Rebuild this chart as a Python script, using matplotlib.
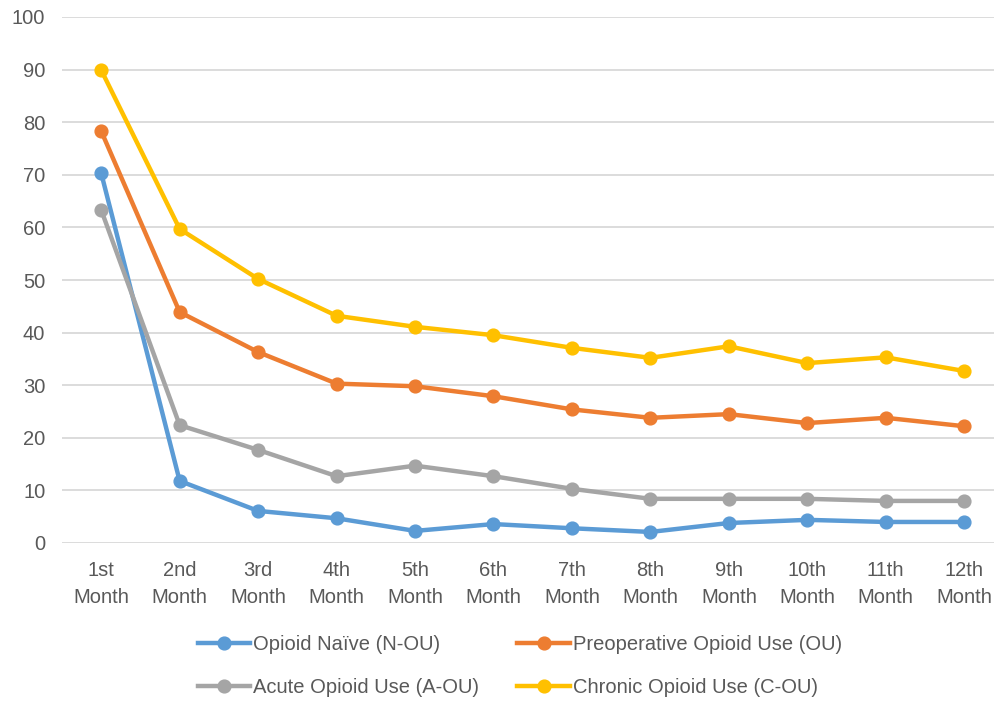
import matplotlib
matplotlib.use("Agg")
import matplotlib.pyplot as plt
from matplotlib.lines import Line2D

months = ["1st\nMonth", "2nd\nMonth", "3rd\nMonth", "4th\nMonth", "5th\nMonth", "6th\nMonth",
          "7th\nMonth", "8th\nMonth", "9th\nMonth", "10th\nMonth", "11th\nMonth", "12th\nMonth"]

naive = [70.3, 11.8, 6.1, 4.7, 2.3, 3.6, 2.8, 2.1, 3.8, 4.4, 4.0, 4.0]
preop = [78.3, 43.9, 36.3, 30.3, 29.8, 27.9, 25.4, 23.8, 24.5, 22.8, 23.8, 22.2]
acute = [63.3, 22.4, 17.7, 12.7, 14.7, 12.7, 10.3, 8.4, 8.4, 8.4, 8.0, 8.0]
chronic = [89.9, 59.7, 50.2, 43.2, 41.1, 39.5, 37.1, 35.2, 37.4, 34.2, 35.3, 32.7]

series = [
    ("Opioid Naïve (N-OU)", naive, "#5B9BD5"),
    ("Preoperative Opioid Use (OU)", preop, "#ED7D31"),
    ("Acute Opioid Use (A-OU)", acute, "#A5A5A5"),
    ("Chronic Opioid Use (C-OU)", chronic, "#FFC000"),
]

plt.rcParams["font.family"] = ["Liberation Sans", "DejaVu Sans"]
text_color = "#595959"
fs = 14.5
lw = 3.2
ms = 9.2

fig = plt.figure(figsize=(9.94, 7.02), dpi=100)
ax = fig.add_axes([62 / 994, 159 / 702, 1 - 62 / 994, 526 / 702])

x = list(range(len(months)))
for label, vals, color in series:
    ax.plot(x, vals, color=color, linewidth=lw, marker="o", markersize=ms,
            label=label, solid_capstyle="round", zorder=3)

ax.set_ylim(0, 100)
ax.set_yticks(range(0, 101, 10))
ax.set_xlim(-0.5, 11.38)
ax.set_xticks(x)
ax.set_xticklabels(months, linespacing=1.5)

ax.grid(axis="y", color="#D9D9D9", linewidth=1.3, zorder=0)
ax.set_axisbelow(True)
for s in ax.spines.values():
    s.set_visible(False)
ax.tick_params(axis="both", length=0, labelsize=fs, labelcolor=text_color)
ax.tick_params(axis="y", pad=12)
ax.tick_params(axis="x", pad=13)

# legend is filled column by column: two rows of two entries
order = [0, 2, 1, 3]
handles = [Line2D([0], [0], color=series[i][2], linewidth=lw, marker="o", markersize=ms)
           for i in order]
labels = [series[i][0] for i in order]
fig.legend(handles, labels, loc="center", bbox_to_anchor=(0.523, 0.051), ncol=2,
           frameon=False, fontsize=fs, handlelength=2.6, handletextpad=0.15,
           columnspacing=1.9, labelspacing=1.2, labelcolor=text_color)

fig.savefig("out.png", dpi=100)
